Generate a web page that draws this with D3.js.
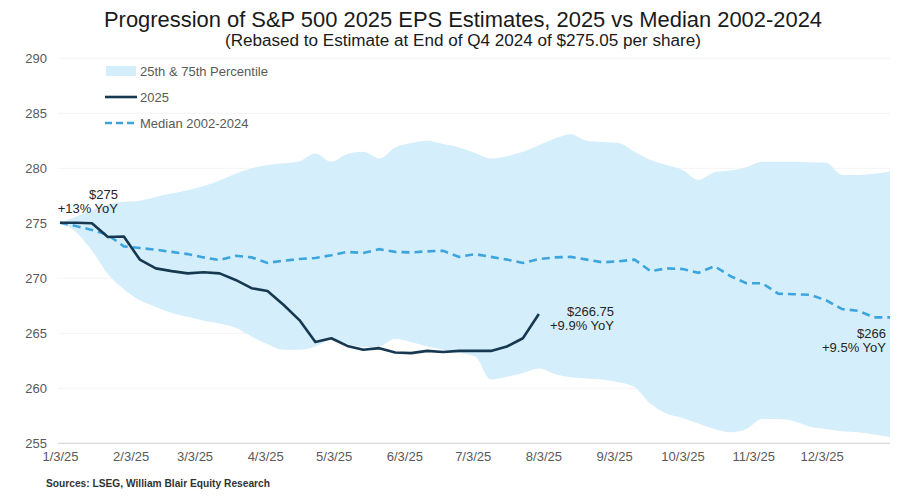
<!DOCTYPE html>
<html>
<head>
<meta charset="utf-8">
<script src="https://cdn.jsdelivr.net/npm/d3@7"></script>
<style>
  html, body { margin: 0; padding: 0; background: #ffffff; }
  svg { display: block; font-family: "Liberation Sans", Arial, sans-serif; }
</style>
</head>
<body>
<svg id="chart" width="903" height="501"></svg>
<script>
// ---- Data ----
const weeks = [
  "2025-01-03","2025-01-10","2025-01-17","2025-01-24","2025-01-31",
  "2025-02-07","2025-02-14","2025-02-21","2025-02-28",
  "2025-03-07","2025-03-14","2025-03-21","2025-03-28",
  "2025-04-04","2025-04-11","2025-04-18","2025-04-25",
  "2025-05-02","2025-05-09","2025-05-16","2025-05-23","2025-05-30",
  "2025-06-06","2025-06-13","2025-06-20","2025-06-27",
  "2025-07-04","2025-07-11","2025-07-18","2025-07-25",
  "2025-08-01","2025-08-08","2025-08-15","2025-08-22","2025-08-29",
  "2025-09-05","2025-09-12","2025-09-19","2025-09-26",
  "2025-10-03","2025-10-10","2025-10-17","2025-10-24","2025-10-31",
  "2025-11-07","2025-11-14","2025-11-21","2025-11-28",
  "2025-12-05","2025-12-12","2025-12-19","2025-12-26",
  "2026-01-02"
];

const eps2025 = [
  275.05, 275.05, 275.0, 273.75, 273.8, 271.7, 270.9, 270.65, 270.45, 270.55,
  270.45, 269.85, 269.1, 268.85, 267.6, 266.2, 264.2, 264.55, 263.85, 263.5,
  263.65, 263.25, 263.2, 263.4, 263.3, 263.4, 263.4, 263.4, 263.8, 264.55,
  266.75
];

const median = [
  275.05, 274.75, 274.4, 273.95, 272.9, 272.75, 272.6, 272.4, 272.2, 271.9,
  271.65, 272.05, 271.9, 271.4, 271.6, 271.75, 271.85, 272.1, 272.4, 272.3,
  272.65, 272.4, 272.35, 272.45, 272.5, 271.95, 272.2, 271.95, 271.7, 271.4,
  271.75, 271.9, 271.95, 271.7, 271.45, 271.55, 271.7, 270.65, 270.9, 270.85,
  270.5, 271.1, 270.2, 269.55, 269.55, 268.6, 268.55, 268.5, 268.0, 267.2,
  267.05, 266.45, 266.45
];

const pct75 = [
  275.05, 275.6, 276.2, 276.7, 276.95, 277.05, 277.4, 277.7, 278.0, 278.4,
  278.9, 279.5, 280.0, 280.3, 280.45, 280.65, 281.35, 280.6, 281.3, 281.5,
  280.9, 281.9, 282.3, 282.5, 282.2, 281.9, 281.4, 280.9, 281.1, 281.5,
  282.1, 282.7, 283.1, 282.5, 282.4, 282.3, 281.5, 280.75, 280.3, 279.85,
  278.95, 279.65, 279.8, 280.1, 280.6, 280.6, 280.6, 280.55, 280.5, 279.4,
  279.4, 279.5, 279.7
];

const pct25 = [
  275.05, 274.2, 272.5, 270.4, 269.0, 268.0, 267.4, 266.85, 266.5, 266.15,
  265.9, 265.5, 264.7, 264.0, 263.5, 263.5, 263.8, 264.4, 264.0, 263.75,
  263.8, 264.5, 264.2, 263.8, 263.5, 263.2, 262.9, 260.8, 261.05, 261.4,
  261.8, 261.3, 261.0, 260.9, 260.8, 260.55, 260.1, 258.6, 257.7, 257.3,
  256.8, 256.3, 256.0, 256.3, 257.2, 257.2, 257.0, 256.5, 256.3, 256.1,
  256.0, 255.8, 255.55
];

const yTicks = [255, 260, 265, 270, 275, 280, 285, 290];
const xTickDates = ["2025-01-03","2025-02-03","2025-03-03","2025-04-03","2025-05-03","2025-06-03",
                    "2025-07-03","2025-08-03","2025-09-03","2025-10-03","2025-11-03","2025-12-03"];

const titleText = "Progression of S&P 500 2025 EPS Estimates, 2025 vs Median 2002-2024";
const subtitleText = "(Rebased to Estimate at End of Q4 2024 of $275.05 per share)";
const legendLabels = ["25th & 75th Percentile", "2025", "Median 2002-2024"];
const sourceText = "Sources: LSEG, William Blair Equity Research";

// ---- Setup ----
const parse = d3.timeParse("%Y-%m-%d");
const dates = weeks.map(parse);
const svg = d3.select("#chart");

const x = d3.scaleTime()
  .domain([dates[0], dates[dates.length - 1]])
  .range([60, 890]);
const y = d3.scaleLinear()
  .domain([255, 290])
  .range([443.3, 58.3]);

const bandColor = "#d5eefb";
const medianColor = "#3da5dd";
const lineColor = "#163850";
const axisText = "#595959";

// gridlines (very faint)
svg.append("g").selectAll("line")
  .data(yTicks.filter(v => v !== 255))
  .join("line")
  .attr("x1", 58).attr("x2", 890)
  .attr("y1", d => y(d)).attr("y2", d => y(d))
  .attr("stroke", "#f4f4f4").attr("stroke-width", 1);

// band
const bandData = dates.map((d, i) => ({ d, lo: pct25[i], hi: pct75[i] }));
svg.append("path")
  .datum(bandData)
  .attr("fill", bandColor)
  .attr("d", d3.area().x(p => x(p.d)).y0(p => y(p.lo)).y1(p => y(p.hi)).curve(d3.curveMonotoneX));

// axis line at bottom
const xAxis = d3.axisBottom(x)
  .tickValues(xTickDates.map(parse))
  .tickFormat(d3.timeFormat("%-m/%-d/%y"))
  .tickSize(0)
  .tickPadding(8);
const gx = svg.append("g").attr("transform", `translate(0,${y(255)})`).call(xAxis);
gx.select(".domain").attr("stroke", "#d9d9d9").attr("stroke-width", 1.2).attr("d", `M58,0H890`);
gx.selectAll("text").attr("fill", axisText).attr("font-size", 13).attr("font-family", "Liberation Sans, Arial, sans-serif");

// y axis labels
const yAxis = d3.axisLeft(y).tickValues(yTicks).tickSize(0).tickPadding(0);
const gy = svg.append("g").attr("transform", "translate(47,0)").call(yAxis);
gy.select(".domain").remove();
gy.selectAll("text").attr("fill", axisText).attr("font-size", 13).attr("font-family", "Liberation Sans, Arial, sans-serif");

// median line
svg.append("path")
  .datum(median.map((v, i) => ({ d: dates[i], v })))
  .attr("fill", "none")
  .attr("stroke", medianColor)
  .attr("stroke-width", 2.6)
  .attr("stroke-dasharray", "8,5")
  .attr("d", d3.line().x(p => x(p.d)).y(p => y(p.v)));

// 2025 line
svg.append("path")
  .datum(eps2025.map((v, i) => ({ d: dates[i], v })))
  .attr("fill", "none")
  .attr("stroke", lineColor)
  .attr("stroke-width", 2.6)
  .attr("stroke-linejoin", "round")
  .attr("d", d3.line().x(p => x(p.d)).y(p => y(p.v)));

// Title
svg.append("text").attr("x", 463).attr("y", 27).attr("text-anchor", "middle")
  .attr("font-size", 22).attr("fill", "#1a1a1a")
  .attr("textLength", 718).attr("lengthAdjust", "spacingAndGlyphs")
  .text(titleText);
svg.append("text").attr("x", 463).attr("y", 46).attr("text-anchor", "middle")
  .attr("font-size", 16).attr("fill", "#1a1a1a")
  .attr("textLength", 476).attr("lengthAdjust", "spacingAndGlyphs")
  .text(subtitleText);

// Legend
const lg = svg.append("g");
lg.append("rect").attr("x", 106).attr("y", 66).attr("width", 30).attr("height", 10).attr("fill", bandColor);
lg.append("line").attr("x1", 105).attr("x2", 137).attr("y1", 97).attr("y2", 97)
  .attr("stroke", lineColor).attr("stroke-width", 2.6);
lg.append("line").attr("x1", 105).attr("x2", 137).attr("y1", 123).attr("y2", 123)
  .attr("stroke", medianColor).attr("stroke-width", 2.6).attr("stroke-dasharray", "7,4");
[71, 97, 123].forEach((yy, i) => {
  lg.append("text").attr("x", 140).attr("y", yy).attr("dy", "0.35em")
    .attr("font-size", 13).attr("fill", axisText).text(legendLabels[i]);
});

// Annotations
function annot(xr, y1, lines) {
  lines.forEach((t, i) => {
    svg.append("text").attr("x", xr).attr("y", y1 + i * 14).attr("dy", "0.35em")
      .attr("text-anchor", "end").attr("font-size", 13).attr("fill", "#262626").text(t);
  });
}
annot(118, 194, ["$275", "+13% YoY"]);
annot(614, 311, ["$266.75", "+9.9% YoY"]);
annot(886, 333, ["$266", "+9.5% YoY"]);

// Source
svg.append("text").attr("x", 46).attr("y", 483).attr("dy", "0.35em")
  .attr("font-size", 11).attr("fill", "#333").attr("font-weight", "bold")
  .attr("textLength", 224).attr("lengthAdjust", "spacingAndGlyphs")
  .text(sourceText);
</script>
</body>
</html>
